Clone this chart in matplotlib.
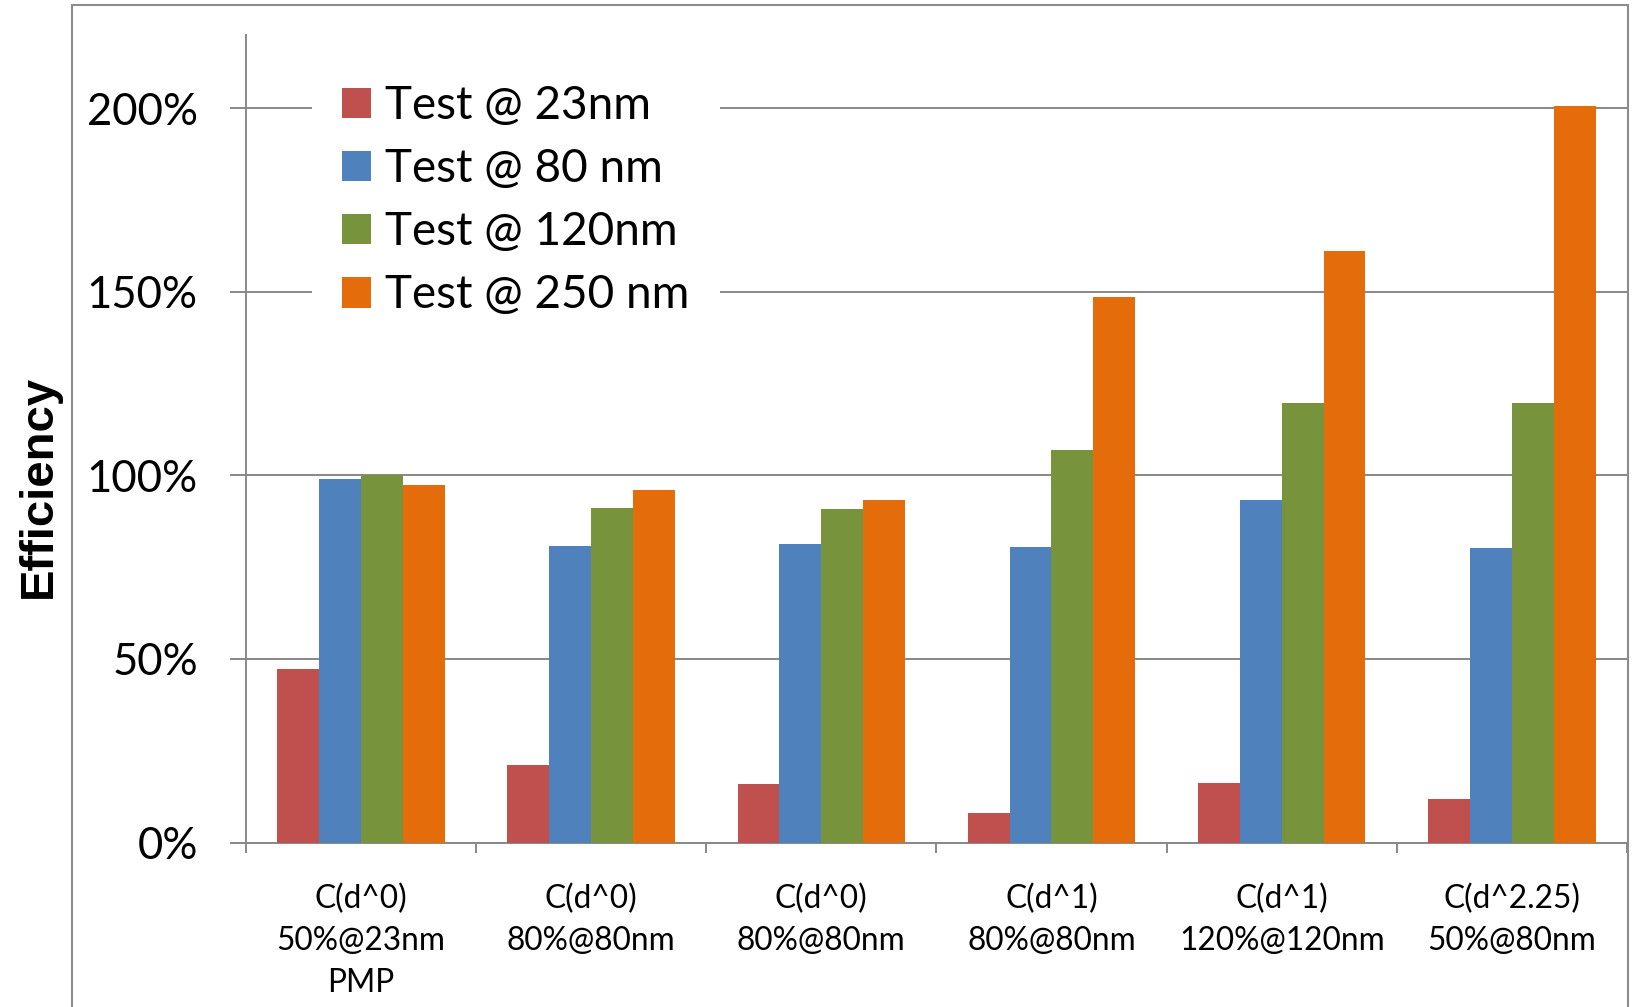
import matplotlib
matplotlib.use("Agg")
import matplotlib.pyplot as plt
from matplotlib.patches import Rectangle
import numpy as np

# Efficiency per test condition (fractions, 1.0 = 100%)
categories = [
    "C(d^0)\n50%@23nm\nPMP",
    "C(d^0)\n80%@80nm",
    "C(d^0)\n80%@80nm",
    "C(d^1)\n80%@80nm",
    "C(d^1)\n120%@120nm",
    "C(d^2.25)\n50%@80nm",
]
series_names = ["Test @ 23nm", "Test @ 80 nm", "Test @ 120nm", "Test @ 250 nm"]
test_23nm = [0.473, 0.212, 0.160, 0.080, 0.162, 0.119]
test_80nm = [0.990, 0.808, 0.813, 0.804, 0.933, 0.803]
test_120nm = [1.000, 0.911, 0.908, 1.068, 1.198, 1.198]
test_250nm = [0.973, 0.960, 0.933, 1.485, 1.610, 2.005]
y_ticks = [0.0, 0.5, 1.0, 1.5, 2.0]
y_tick_labels = ["0%", "50%", "100%", "150%", "200%"]

series_values = [test_23nm, test_80nm, test_120nm, test_250nm]
colors = ["#C0504D", "#4F81BD", "#77933C", "#E46C0A"]

W, H = 1632, 1007
DPI = 100
fig = plt.figure(figsize=(W / DPI, H / DPI), dpi=DPI)
fig.patch.set_facecolor("white")

text_font = ["Lato", "DejaVu Sans"]
grey = "#888888"

# plot area placement (pixels)
ax_left, ax_right = 245.7, 1627.0
ax_bottom, ax_top = 842.5, 35.0
ax = fig.add_axes([ax_left / W, 1 - ax_bottom / H,
                   (ax_right - ax_left) / W, (ax_bottom - ax_top) / H])

n_cat = len(categories)
n_ser = len(series_values)
gap = 1.5
bar_w = 1.0 / (n_ser + gap)
centers = np.arange(n_cat) + 0.5

for k, (vals, col, name) in enumerate(zip(series_values, colors, series_names)):
    offs = (k - (n_ser - 1) / 2) * bar_w
    ax.bar(centers + offs, vals, width=bar_w, color=col, label=name,
           edgecolor="none", zorder=3)

ax.set_xlim(0, n_cat)
ax.set_ylim(0, 2.199)

# y axis
ax.set_yticks(y_ticks)
ax.set_yticklabels(y_tick_labels, fontsize=31.5, family=text_font)
ax.yaxis.grid(True, color=grey, linewidth=1.4, zorder=0)
ax.set_axisbelow(True)
ax.tick_params(axis="y", direction="out", length=11.5, width=1.4,
               color=grey, pad=23)

# x axis: boundary ticks, labels centred per category
ax.set_xticks(np.arange(n_cat + 1))
ax.set_xticklabels([])
ax.set_xticks(centers, minor=True)
ax.set_xticklabels(categories, minor=True, fontsize=22.8, family=text_font,
                   linespacing=1.5)
ax.tick_params(axis="x", which="major", direction="out", length=7.5,
               width=1.4, color=grey)
ax.tick_params(axis="x", which="minor", length=0, pad=29.5)
for lbl in ax.get_xticklabels(minor=True):
    lbl.set_verticalalignment("top")

for side in ("top", "right"):
    ax.spines[side].set_visible(False)
for side in ("left", "bottom"):
    ax.spines[side].set_color(grey)
    ax.spines[side].set_linewidth(1.4)

# legend inside the plot area, white box hiding the grid
leg = ax.legend(loc="upper left",
                bbox_to_anchor=(311.7 / W, 1 - 55 / H),
                bbox_transform=fig.transFigure,
                prop={"family": text_font, "size": 33},
                frameon=True, fancybox=False, framealpha=1.0,
                borderaxespad=0, borderpad=0.66,
                handlelength=0.64, handleheight=0.64,
                handletextpad=0.3, labelspacing=0.46)
leg.get_frame().set_facecolor("white")
leg.get_frame().set_edgecolor("none")
leg.set_zorder(5)

# y axis title
fig.text(39 / W, 1 - 487 / H, "Efficiency", rotation=90, ha="center",
         va="center", fontsize=34, fontweight="bold",
         family=["Liberation Sans", "DejaVu Sans"])

# outer chart border
border = Rectangle((71.7 / W, -0.05), (1627.7 - 71.7) / W, 1.05 - 5 / H,
                   transform=fig.transFigure, fill=False,
                   edgecolor="#8C8C8C", linewidth=1.5, clip_on=False)
fig.patches.append(border)

fig.savefig("out.png", dpi=DPI, facecolor="white")
